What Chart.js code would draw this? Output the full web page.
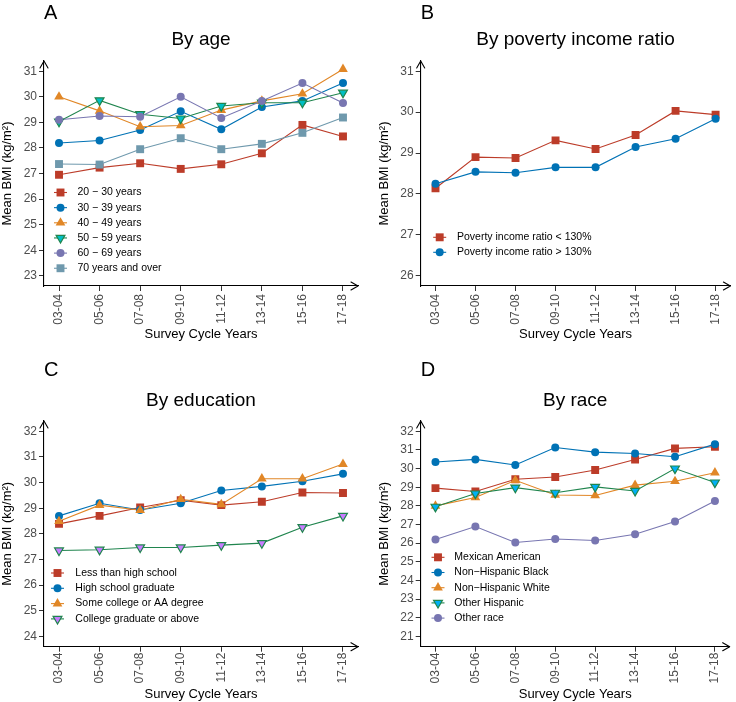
<!DOCTYPE html>
<html>
<head>
<meta charset="utf-8">
<script src="https://cdn.jsdelivr.net/npm/chart.js@4.4.1/dist/chart.umd.min.js"></script>
<style>
  body { margin: 0; background: #fff; }
  #wrap { position: relative; width: 736px; height: 702px; }
  #wrap canvas { position: absolute; }
</style>
</head>
<body>
<div id="wrap">
  <canvas id="panelA" width="368" height="351" style="left:0;top:0"></canvas>
  <canvas id="panelB" width="368" height="351" style="left:368px;top:0"></canvas>
  <canvas id="panelC" width="368" height="351" style="left:0;top:351px"></canvas>
  <canvas id="panelD" width="368" height="351" style="left:368px;top:351px"></canvas>
</div>
<script>
// survey cycles on the x axis
const cycles = ['03-04', '05-06', '07-08', '09-10', '11-12', '13-14', '15-16', '17-18'];

// A - by age
const ageLabels = ['20 \u2212 30 years', '30 \u2212 39 years', '40 \u2212 49 years', '50 \u2212 59 years', '60 \u2212 69 years', '70 years and over'];
const age20to30 = [26.95, 27.23, 27.40, 27.18, 27.36, 27.79, 28.90, 28.45];
const age30to39 = [28.19, 28.29, 28.70, 29.43, 28.73, 29.60, 29.84, 30.54];
const age40to49 = [30.00, 29.45, 28.83, 28.88, 29.48, 29.84, 30.12, 31.08];
const age50to59 = [29.03, 29.86, 29.32, 29.15, 29.64, 29.77, 29.77, 30.16];
const age60to69 = [29.10, 29.25, 29.22, 30.00, 29.17, 29.84, 30.54, 29.76];
const age70plus = [27.37, 27.35, 27.95, 28.38, 27.95, 28.16, 28.59, 29.19];
const ageTicks = [23, 24, 25, 26, 27, 28, 29, 30, 31];

// B - by poverty income ratio
const pirLabels = ['Poverty income ratio < 130%', 'Poverty income ratio > 130%'];
const pirBelow = [28.14, 28.90, 28.88, 29.31, 29.10, 29.44, 30.03, 29.94];
const pirAbove = [28.25, 28.54, 28.52, 28.65, 28.65, 29.15, 29.35, 29.84];
const pirTicks = [26, 27, 28, 29, 30, 31];

// C - by education
const eduLabels = ['Less than high school', 'High school graduate', 'Some college or AA degree', 'College graduate or above'];
const eduLessHS = [28.39, 28.70, 29.03, 29.31, 29.12, 29.25, 29.61, 29.59];
const eduHSGrad = [28.70, 29.19, 28.93, 29.19, 29.69, 29.85, 30.05, 30.34];
const eduSomeCollege = [28.49, 29.12, 28.92, 29.35, 29.15, 30.15, 30.15, 30.72];
const eduCollegeGrad = [27.35, 27.38, 27.47, 27.47, 27.56, 27.64, 28.26, 28.70];
const eduTicks = [24, 25, 26, 27, 28, 29, 30, 31, 32];

// D - by race
const raceLabels = ['Mexican American', 'Non\u2212Hispanic Black', 'Non\u2212Hispanic White', 'Other Hispanic', 'Other race'];
const raceMexican = [28.95, 28.77, 29.43, 29.55, 29.92, 30.49, 31.08, 31.17];
const raceBlack = [30.35, 30.49, 30.19, 31.13, 30.88, 30.81, 30.63, 31.31];
const raceWhite = [28.00, 28.45, 29.37, 28.58, 28.56, 29.11, 29.32, 29.78];
const raceOtherHisp = [27.95, 28.66, 28.98, 28.70, 29.02, 28.80, 30.00, 29.25];
const raceOther = [26.20, 26.89, 26.04, 26.22, 26.14, 26.48, 27.16, 28.26];
const raceTicks = [21, 22, 23, 24, 25, 26, 27, 28, 29, 30, 31, 32];

// styling
const FONT = "'Liberation Sans', Arial, Helvetica, sans-serif";
const RED = '#BC3C29', BLUE = '#0072B5', ORANGE = '#E18727', GREEN = '#20854E', PURPLE = '#7876B1', SLATE = '#6F99AD';
const SHAPES = {
  square: { pointStyle: 'rect', rot: 0, radius: 5.6, bw: 0 },
  circle: { pointStyle: 'circle', rot: 0, radius: 4, bw: 0 },
  triUp: { pointStyle: 'triangle', rot: 0, radius: 5.6, bw: 0 },
  triDown: { pointStyle: 'triangle', rot: 180, radius: 5.1, bw: 1.2 }
};

Chart.defaults.font.family = FONT;

// open arrow heads at the end of both axis lines
const axisArrows = {
  id: 'axisArrows',
  afterDraw(chart) {
    const { ctx, chartArea: a } = chart;
    ctx.save();
    ctx.strokeStyle = '#000';
    ctx.lineWidth = 1.1;
    ctx.lineCap = 'round';
    ctx.lineJoin = 'round';
    ctx.beginPath();
    ctx.moveTo(a.left - 4, a.top + 7);
    ctx.lineTo(a.left, a.top);
    ctx.lineTo(a.left + 4, a.top + 7);
    ctx.moveTo(a.right - 7, a.bottom - 4);
    ctx.lineTo(a.right, a.bottom);
    ctx.lineTo(a.right - 7, a.bottom + 4);
    ctx.stroke();
    ctx.restore();
  }
};

// ggplot-like legend keys (line through marker) inside the panel
const keyLegend = {
  id: 'keyLegend',
  afterDraw(chart, args, opts) {
    const ctx = chart.ctx;
    const items = chart.data.datasets.filter(d => d.showLine === false);
    items.forEach((d, i) => {
      const y = opts.y + i * opts.gap;
      ctx.save();
      ctx.strokeStyle = d.pointBorderColor;
      ctx.lineWidth = 1.1;
      ctx.beginPath();
      ctx.moveTo(opts.x - 6.5, y);
      ctx.lineTo(opts.x + 6.5, y);
      ctx.stroke();
      ctx.fillStyle = d.pointBackgroundColor;
      ctx.strokeStyle = d.pointBorderColor;
      ctx.lineWidth = d.pointBorderWidth;
      Chart.helpers.drawPoint(ctx, {
        pointStyle: d.pointStyle, rotation: d.pointRotation,
        radius: d.pointRadius, borderWidth: d.pointBorderWidth
      }, opts.x, y);
      ctx.fillStyle = '#000';
      ctx.font = '10.5px ' + FONT;
      ctx.textAlign = 'left';
      ctx.textBaseline = 'middle';
      ctx.fillText(d.label, opts.textX, y);
      ctx.restore();
    });
  }
};

function makePanel(id, panel) {
  const datasets = [];
  // lines first (underneath), then markers, later groups on top
  panel.series.forEach((s, i) => {
    datasets.push({
      label: s.label,
      data: s.values.map((v, j) => ({ x: j, y: v })),
      borderColor: s.color,
      borderWidth: 1.1,
      pointRadius: 0,
      fill: false,
      tension: 0,
      order: 200 - i
    });
  });
  panel.series.forEach((s, i) => {
    const sh = SHAPES[s.shape];
    datasets.push({
      label: s.label,
      data: s.values.map((v, j) => ({ x: j, y: v })),
      showLine: false,
      pointStyle: sh.pointStyle,
      pointRotation: sh.rot,
      pointRadius: sh.radius,
      pointBackgroundColor: s.fill || s.color,
      pointBorderColor: s.color,
      pointBorderWidth: sh.bw,
      order: 100 - i
    });
  });

  const g = panel.geom;
  return new Chart(document.getElementById(id), {
    type: 'line',
    data: { datasets: datasets },
    options: {
      responsive: false,
      animation: false,
      devicePixelRatio: 1,
      events: [],
      layout: { padding: { left: 0, top: 0, right: g.padRight, bottom: 0 } },
      scales: {
        x: {
          type: 'linear',
          min: -0.37,
          max: cycles.length - 1 + 0.37,
          afterBuildTicks: (sc) => { sc.ticks = cycles.map((c, i) => ({ value: i })); },
          afterFit: (sc) => { sc.height = g.xHeight; },
          grid: { drawOnChartArea: false, drawTicks: true, tickLength: 5, color: '#333333', lineWidth: 1 },
          border: { display: true, color: '#000', width: 1.1 },
          ticks: {
            autoSkip: false, minRotation: 90, maxRotation: 90, padding: g.xTickPad,
            color: '#4D4D4D', font: { size: 12 },
            callback: (v, idx) => cycles[idx]
          },
          title: {
            display: true, text: 'Survey Cycle Years', color: '#000',
            font: { size: 13 }, padding: { top: 0, bottom: g.xTitlePad }
          }
        },
        y: {
          type: 'linear',
          min: panel.yMin,
          max: panel.yMax,
          afterBuildTicks: (sc) => { sc.ticks = panel.yTicks.map(v => ({ value: v })); },
          afterFit: (sc) => { sc.width = g.yWidth; },
          grid: { drawOnChartArea: false, drawTicks: true, tickLength: 5, color: '#333333', lineWidth: 1 },
          border: { display: true, color: '#000', width: 1.1 },
          ticks: { color: '#4D4D4D', font: { size: 12 }, padding: 2 },
          title: {
            display: true, text: 'Mean BMI (kg/m\u00B2)', color: '#000',
            font: { size: 13 }, padding: { top: g.yTitlePad, bottom: 0 }
          }
        }
      },
      plugins: {
        legend: { display: false },
        tooltip: { enabled: false },
        title: {
          display: true, text: panel.letter, align: 'start', fullSize: false,
          color: '#000', font: { size: 20, weight: 'normal' },
          padding: { top: g.letterPad, bottom: 0 }
        },
        subtitle: {
          display: true, text: panel.title, align: 'center', fullSize: false,
          color: '#000', font: { size: 19, weight: 'normal' },
          padding: { top: g.titlePadTop, bottom: g.titlePadBottom }
        },
        keyLegend: panel.legend
      }
    },
    plugins: [axisArrows, keyLegend]
  });
}

const topGeom = { yWidth: 44, xHeight: 65, padRight: 10, letterPad: 1, titlePadTop: 3.6, titlePadBottom: 9.6, xTickPad: 3, xTitlePad: 9.2, yTitlePad: 0 };
const bottomGeom = { yWidth: 44, xHeight: 55.3, padRight: 10, letterPad: 7.5, titlePadTop: 6.4, titlePadBottom: 9.3, xTickPad: 1, xTitlePad: 0, yTitlePad: 0 };

makePanel('panelA', {
  letter: 'A', title: 'By age',
  yMin: 22.6, yMax: 31.4, yTicks: ageTicks,
  geom: topGeom,
  legend: { x: 60.5, textX: 77.5, y: 192.5, gap: 15.15 },
  series: [
    { label: ageLabels[0], values: age20to30, color: RED, shape: 'square' },
    { label: ageLabels[1], values: age30to39, color: BLUE, shape: 'circle' },
    { label: ageLabels[2], values: age40to49, color: ORANGE, shape: 'triUp' },
    { label: ageLabels[3], values: age50to59, color: GREEN, fill: '#00BFC4', shape: 'triDown' },
    { label: ageLabels[4], values: age60to69, color: PURPLE, shape: 'circle' },
    { label: ageLabels[5], values: age70plus, color: SLATE, shape: 'square' }
  ]
});

makePanel('panelB', {
  letter: 'B', title: 'By poverty income ratio',
  yMin: 25.75, yMax: 31.25, yTicks: pirTicks,
  geom: Object.assign({}, topGeom, { yWidth: 52.7, padRight: 1.3, yTitlePad: 8.7 }),
  legend: { x: 71.7, textX: 89, y: 237.3, gap: 15 },
  series: [
    { label: pirLabels[0], values: pirBelow, color: RED, shape: 'square' },
    { label: pirLabels[1], values: pirAbove, color: BLUE, shape: 'circle' }
  ]
});

makePanel('panelC', {
  letter: 'C', title: 'By education',
  yMin: 23.6, yMax: 32.4, yTicks: eduTicks,
  geom: bottomGeom,
  legend: { x: 57.5, textX: 75.3, y: 222, gap: 15.3 },
  series: [
    { label: eduLabels[0], values: eduLessHS, color: RED, shape: 'square' },
    { label: eduLabels[1], values: eduHSGrad, color: BLUE, shape: 'circle' },
    { label: eduLabels[2], values: eduSomeCollege, color: ORANGE, shape: 'triUp' },
    { label: eduLabels[3], values: eduCollegeGrad, color: GREEN, fill: '#C77CFF', shape: 'triDown' }
  ]
});

makePanel('panelD', {
  letter: 'D', title: 'By race',
  yMin: 20.45, yMax: 32.55, yTicks: raceTicks,
  geom: Object.assign({}, bottomGeom, { yWidth: 52.7, padRight: 1.3, yTitlePad: 8.7 }),
  legend: { x: 70, textX: 86.3, y: 206.3, gap: 15.2 },
  series: [
    { label: raceLabels[0], values: raceMexican, color: RED, shape: 'square' },
    { label: raceLabels[1], values: raceBlack, color: BLUE, shape: 'circle' },
    { label: raceLabels[2], values: raceWhite, color: ORANGE, shape: 'triUp' },
    { label: raceLabels[3], values: raceOtherHisp, color: GREEN, fill: '#00B0F6', shape: 'triDown' },
    { label: raceLabels[4], values: raceOther, color: PURPLE, shape: 'circle' }
  ]
});
</script>
</body>
</html>
